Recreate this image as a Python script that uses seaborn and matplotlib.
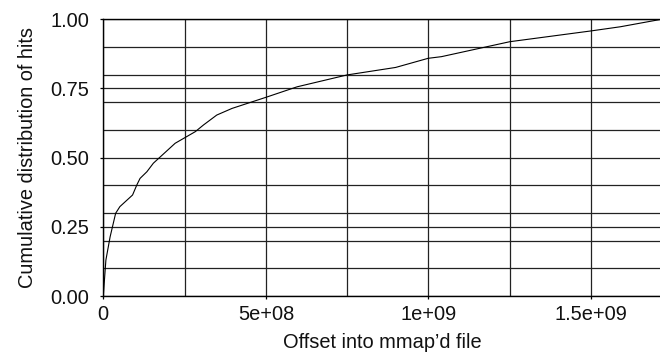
import matplotlib
matplotlib.use("Agg")
import matplotlib.pyplot as plt
from matplotlib.ticker import FixedLocator, FixedFormatter
import seaborn as sns
import pandas as pd

# Cumulative share of hits by byte offset into the mapped file
offsets = [0, 8e6, 2.1e7, 3.8e7, 5.1e7, 9.0e7, 1.03e8, 1.13e8, 1.34e8, 1.54e8,
           2.21e8, 2.83e8, 3.08e8, 3.49e8, 3.96e8, 5.0e8, 5.96e8, 7.5e8,
           8.99e8, 9.99e8, 1.04e9, 1.18e9, 1.25e9, 1.5e9, 1.59e9, 1.716e9]
cum_hits = [0.0, 0.13, 0.214, 0.299, 0.323, 0.365, 0.401, 0.425, 0.449, 0.48,
            0.552, 0.594, 0.618, 0.654, 0.678, 0.718, 0.756, 0.799,
            0.826, 0.859, 0.865, 0.901, 0.919, 0.958, 0.973, 1.0]

x_major = [0, 5e8, 1e9, 1.5e9]
x_labels = ["0", "5e+08", "1e+09", "1.5e+09"]
x_minor = [2.5e8, 7.5e8, 1.25e9]
y_major = [0.0, 0.25, 0.5, 0.75, 1.0]
y_labels = ["0.00", "0.25", "0.50", "0.75", "1.00"]
y_minor = [0.1, 0.2, 0.3, 0.4, 0.6, 0.7, 0.8, 0.9]

df = pd.DataFrame({"offset": offsets, "cdf": cum_hits})

sns.set_theme(style="white")
plt.rcParams["font.family"] = ["Liberation Sans", "DejaVu Sans"]

fig = plt.figure(figsize=(6.6, 3.56), dpi=100)
ax = fig.add_axes([0.1565, 0.1685, 0.8435 + 0.002, 0.9458 - 0.1685])

sns.lineplot(data=df, x="offset", y="cdf", ax=ax, color="black", linewidth=0.8)

ax.set_xlim(0, 1.716e9)
ax.set_ylim(0, 1.0)

ax.xaxis.set_major_locator(FixedLocator(x_major))
ax.xaxis.set_major_formatter(FixedFormatter(x_labels))
ax.xaxis.set_minor_locator(FixedLocator(x_minor))
ax.yaxis.set_major_locator(FixedLocator(y_major))
ax.yaxis.set_major_formatter(FixedFormatter(y_labels))
ax.yaxis.set_minor_locator(FixedLocator(y_minor))

ax.grid(True, which="both", color="#222222", linewidth=0.9)
ax.set_axisbelow(True)

for side in ["left", "bottom", "top"]:
    ax.spines[side].set_visible(True)
    ax.spines[side].set_color("black")
    ax.spines[side].set_linewidth(1.0)
ax.spines["right"].set_visible(False)

ax.tick_params(axis="both", which="major", direction="out", length=2.2,
               width=0.9, color="black", labelsize=14.4, labelcolor="#111111",
               bottom=True, left=True)
ax.tick_params(axis="y", which="major", pad=7.8)
ax.tick_params(axis="x", which="major", pad=4.2)
ax.tick_params(axis="both", which="minor", length=0)

ax.set_xlabel("Offset into mmap\u2019d file", fontsize=14.4, color="#111111", labelpad=6.5)
ax.set_ylabel("Cumulative distribution of hits", fontsize=14.4, color="#111111", labelpad=9.5)

fig.savefig("out.png", dpi=100)
